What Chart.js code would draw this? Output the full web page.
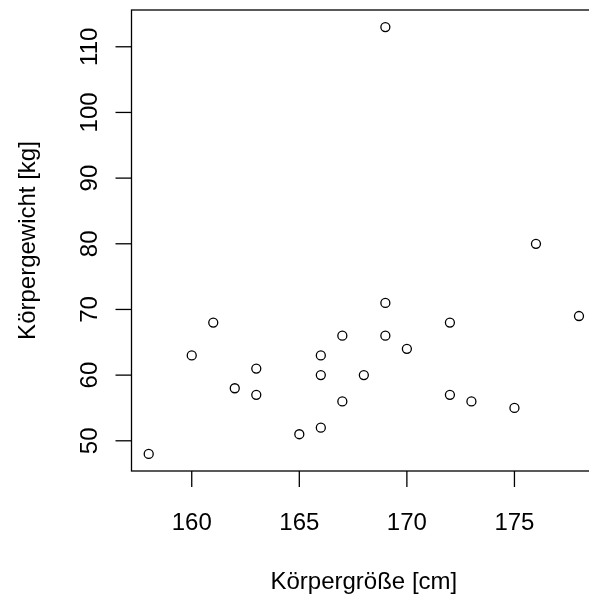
<!DOCTYPE html>
<html>
<head>
<meta charset="utf-8">
<script src="https://cdn.jsdelivr.net/npm/chart.js@4/dist/chart.umd.min.js"></script>
<style>
  html, body { margin: 0; padding: 0; background: #fff; overflow: hidden; }
  #wrap { width: 589px; height: 601px; overflow: hidden; }
</style>
</head>
<body>
<div id="wrap"><canvas id="plot" width="602" height="601"></canvas></div>
<script>
// Körpergröße / Körpergewicht
const groesse = [158, 160, 161, 162, 163, 163, 165, 166, 166, 166, 167, 167, 168, 169, 169, 169, 170, 172, 172, 173, 175, 176, 178];
const gewicht = [48, 63, 68, 58, 61, 57, 51, 52, 60, 63, 56, 66, 60, 113, 71, 66, 64, 68, 57, 56, 55, 80, 69];
const xTicks = [160, 165, 170, 175];
const yTicks = [50, 60, 70, 80, 90, 100, 110];
const xTitle = "Körpergröße [cm]";
const yTitle = "Körpergewicht [kg]";

const FONT = '24px "Liberation Sans", Arial, sans-serif';

// R-style box, tick marks and labels
const rAxes = {
  id: "rAxes",
  afterDraw(chart) {
    const c = chart.ctx;
    const a = chart.chartArea;
    const xs = chart.scales.x;
    const ys = chart.scales.y;
    c.save();
    c.strokeStyle = "#000";
    c.fillStyle = "#000";
    c.lineWidth = 1.3;
    c.strokeRect(a.left, a.top, a.right - a.left, a.bottom - a.top);

    c.font = FONT;
    c.textAlign = "center";
    c.textBaseline = "alphabetic";
    xTicks.forEach((v) => {
      const px = xs.getPixelForValue(v);
      c.beginPath();
      c.moveTo(px, a.bottom);
      c.lineTo(px, a.bottom + 16);
      c.stroke();
      c.fillText(String(v), px, 530);
    });
    c.fillText(xTitle, (a.left + a.right) / 2, 589);

    yTicks.forEach((v) => {
      const py = ys.getPixelForValue(v);
      c.beginPath();
      c.moveTo(a.left, py);
      c.lineTo(a.left - 16, py);
      c.stroke();
      c.save();
      c.translate(97, py);
      c.rotate(-Math.PI / 2);
      c.fillText(String(v), 0, 0);
      c.restore();
    });
    c.save();
    c.translate(35, (a.top + a.bottom) / 2);
    c.rotate(-Math.PI / 2);
    c.fillText(yTitle, 0, 0);
    c.restore();
    c.restore();
  },
};

new Chart(document.getElementById("plot"), {
  type: "scatter",
  data: {
    datasets: [
      {
        data: groesse.map((g, i) => ({ x: g, y: gewicht[i] })),
        pointStyle: "circle",
        pointRadius: 4.5,
        pointBorderWidth: 1.3,
        borderColor: "#000",
        backgroundColor: "rgba(0,0,0,0)",
      },
    ],
  },
  options: {
    responsive: false,
    animation: false,
    layout: { padding: { top: 10, right: 4, left: 0, bottom: 0 } },
    plugins: { legend: { display: false }, tooltip: { enabled: false } },
    scales: {
      x: {
        type: "linear",
        min: 157.2,
        max: 178.8,
        grid: { display: false },
        border: { display: false },
        ticks: { display: false },
        afterFit: (s) => { s.height = 130; },
      },
      y: {
        type: "linear",
        min: 45.4,
        max: 115.6,
        grid: { display: false },
        border: { display: false },
        ticks: { display: false },
        afterFit: (s) => { s.width = 131.5; },
      },
    },
  },
  plugins: [rAxes],
});
</script>
</body>
</html>
